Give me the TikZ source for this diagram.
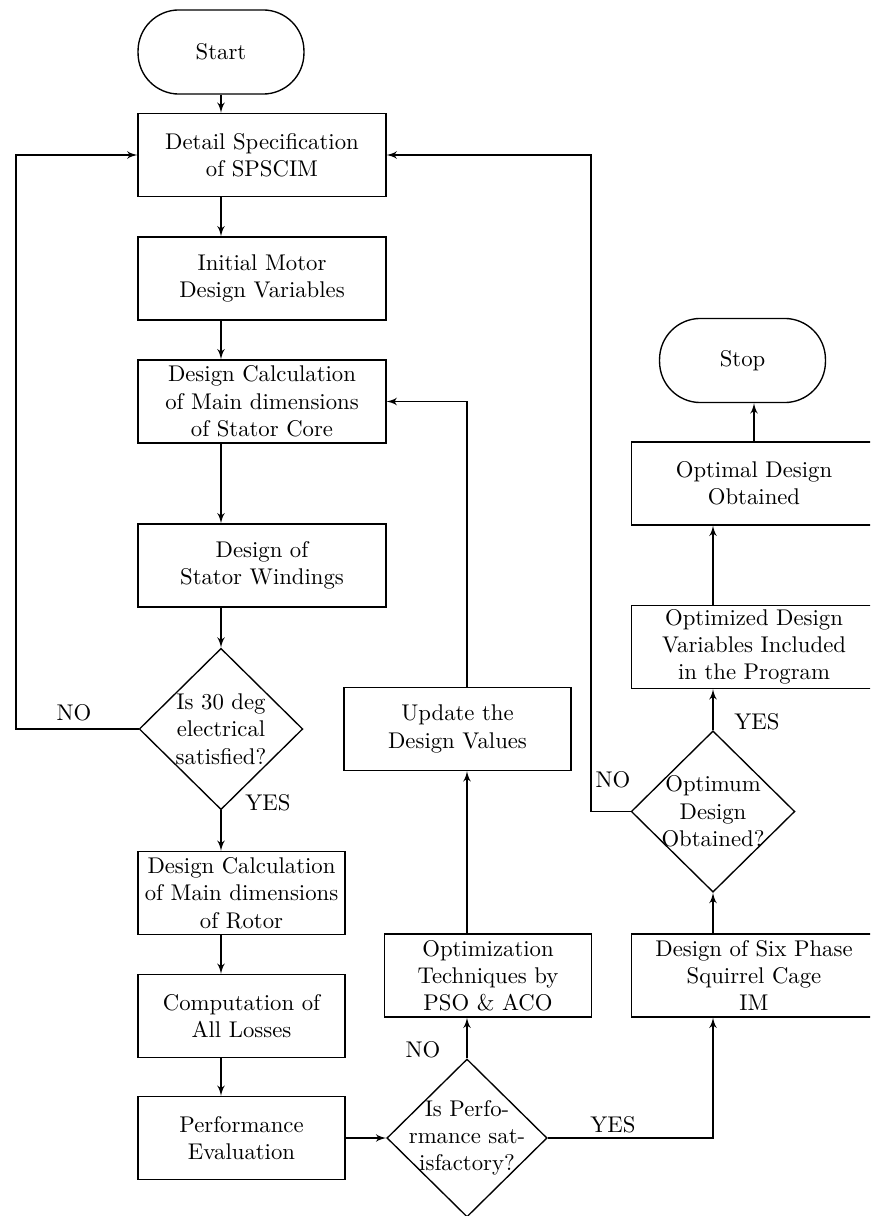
\documentclass[tikz,border=0pt]{standalone}
\usetikzlibrary{shapes, arrows, calc}

\begin{document}
\begin{tikzpicture}[>=latex', x=0.44pt, y=-0.44pt, line width=0.6pt,
  box/.style={draw, align=center, minimum width=109pt, minimum height=36.5pt, inner sep=1pt},
  shortbox/.style={box, minimum width=91pt},
  decision/.style={draw, diamond, aspect=1, align=center, inner sep=-8pt,
    minimum width=72pt, minimum height=71pt},
  terminal/.style={draw, rounded corners=18pt, minimum width=73pt, minimum height=37pt}]
\useasboundingbox (0, 0) rectangle (870, 1216);
\clip (0, 0) rectangle (870, 1216);
% left column
\node[terminal] at (221, 52)     (start) {Start};
\node[box]      at (262, 155)    (spec) {Detail Specification\\of SPSCIM};
\node[box]      at (262, 278.5)  (init) {Initial Motor\\Design Variables};
\node[box]      at (262, 401.5)  (core) {Design Calculation\\of Main dimensions\\of Stator Core};
\node[box]      at (262, 565.5)  (wind) {Design of\\Stator Windings};
\node[decision] at (221, 729)    (phase) {Is 30 deg\\electrical\\satisfied?};
\node[shortbox] at (241.5, 893)  (rotor) {Design Calculation\\of Main dimensions\\of Rotor};
\node[shortbox] at (241.5, 1016) (loss) {Computation of\\All Losses};
\node[shortbox] at (241.5, 1138) (perf) {Performance\\Evaluation};
% middle column
\node[decision, minimum width=70.5pt, minimum height=69.5pt] at (467, 1138) (sat)
    {Is Perfo-\\rmance sat-\\isfactory?};
\node[shortbox] at (488, 975.5) (pso) {Optimization\\Techniques by\\PSO \& ACO};
\node[box, minimum width=100pt] at (457.5, 729) (update) {Update the\\Design Values};
% right column
\node[box, minimum width=108pt] at (754, 975.5) (six) {Design of Six Phase\\Squirrel Cage\\IM};
\node[decision] at (713, 811.5) (optimum) {Optimum\\Design\\Obtained?};
\node[box, minimum width=108pt] at (754, 647)   (included) {Optimized Design\\Variables Included\\in the Program};
\node[box, minimum width=108pt] at (754, 483.5) (obtained) {Optimal Design\\Obtained};
\node[terminal] at (742.5, 360.5) (stop) {Stop};
\coordinate (backleft) at (16, 729);
\coordinate (backright) at (591, 811.5);
% labels
\node at (74, 713)   (no1) {NO};
\node at (268, 803)  (yes1) {YES};
\node at (423, 1050) (no2) {NO};
\node at (613, 1125) (yes2) {YES};
\node at (613, 780)  (no3) {NO};
\node at (757, 722)  (yes3) {YES};
% flow
\draw[->] (start.south) -- (spec.north -| start);
\draw[->] (spec.south -| start) -- (init.north -| start);
\draw[->] (init.south -| start) -- (core.north -| start);
\draw[->] (core.south -| start) -- (wind.north -| start);
\draw[->] (wind.south -| phase) -- (phase.north);
\draw[->] (phase.south) -- (rotor.north -| phase);
\draw[->] (rotor.south -| phase) -- (loss.north -| phase);
\draw[->] (loss.south -| phase) -- (perf.north -| phase);
\draw[->] (perf.east) -- (sat.west);
\draw[->] (sat.north) -- (pso.south -| sat);
\draw[->] (pso.north -| sat) -- (update.south -| sat);
\draw[->] (update.north -| sat) |- (core.east);
\draw[->] (phase.west) -- (backleft) |- (spec.west);
\draw[->] (sat.east) -| (six.south -| optimum);
\draw[->] (six.north -| optimum) -- (optimum.south);
\draw[->] (optimum.north) -- (included.south -| optimum);
\draw[->] (included.north -| optimum) -- (obtained.south -| optimum);
\draw[->] (obtained.north) -- (obtained.north |- stop.south);
\draw[->] (optimum.west) -- (backright) |- (spec.east);
\end{tikzpicture}
\end{document}
